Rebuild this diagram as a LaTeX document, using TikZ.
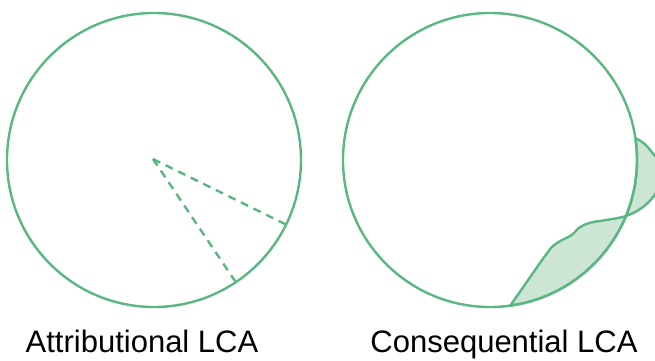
\documentclass[tikz,border=0pt]{standalone}
\usepackage{fontspec}
\setmainfont{Liberation Sans}
\definecolor{lcagreen}{RGB}{90,183,130}
\definecolor{lcafill}{RGB}{205,229,212}
\begin{document}
\begin{tikzpicture}[x=1pt,y=-1pt,
  ring/.style={draw=lcagreen,line width=2.4pt},
  dashline/.style={draw=lcagreen,line width=2.4pt,dash pattern=on 8pt off 6pt},
  blob/.style={fill=lcafill,draw=lcagreen,line width=2.4pt,line join=round},
  caption/.style={font=\fontsize{31}{36}\selectfont,text=black,inner sep=0pt,anchor=base}]
\useasboundingbox (0,0) rectangle (655,360);
\begin{scope}
\clip (0,0) rectangle (655,360);
% left
\coordinate (cA) at (154,160);
\coordinate (pA1) at (287,225);
\coordinate (pA2) at (235,281);
\draw[dashline] (153,159) coordinate (oA) -- (pA1);
\draw[dashline] (oA) -- (pA2);
\node[ring,circle,minimum size=294pt,inner sep=0pt] (circA) at (cA) {};
% right
\coordinate (cB) at (490,160);
\path[blob] (cB) ++(8.5:147 and -147) coordinate (b1)
  arc[start angle=8.5,end angle=-82.1,x radius=147,y radius=-147] coordinate (b2)
  .. controls (525,285) and (540,262) .. (551,248)
  .. controls (558,240) and (570,238) .. (575,232)
  .. controls (580,225) and (590,222) .. (600,221)
  .. controls (612,219) and (620,218) .. (626,216)
  .. controls (640,211) and (650,203) .. (658,190)
  .. controls (668,175) and (665,165) .. (655,156)
  .. controls (650,150) and (645,142) .. (b1) -- cycle;
\node[ring,circle,minimum size=294pt,inner sep=0pt] (circB) at (cB) {};
\end{scope}
% captions
\node[caption] (tA) at (142,352) {Attributional LCA};
\node[caption] (tB) at (504,352) {Consequential LCA};
\end{tikzpicture}
\end{document}
